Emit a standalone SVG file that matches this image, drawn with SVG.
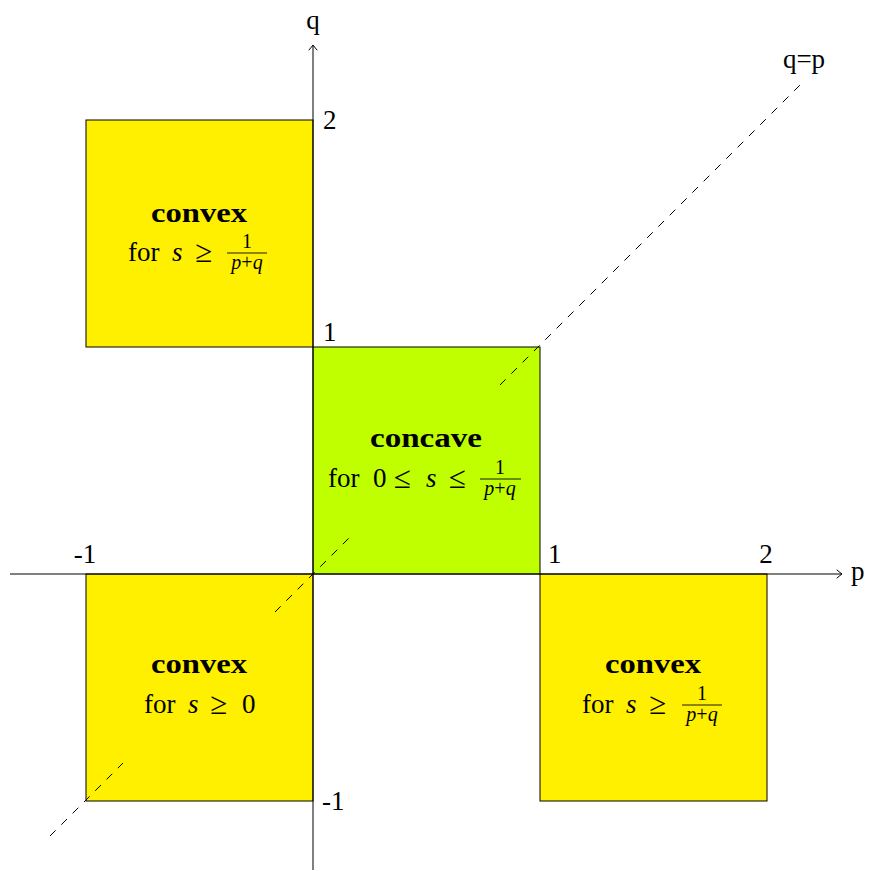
<svg xmlns="http://www.w3.org/2000/svg" width="871" height="871" viewBox="0 0 871 871" font-family="'Liberation Serif', 'DejaVu Serif', serif">
<defs>
<marker id="arr" viewBox="-6 -5 8 10" markerWidth="8" markerHeight="10" refX="0" refY="0" orient="auto" markerUnits="userSpaceOnUse">
<path d="M -5,-4 Q -1.5,-1 0,0 Q -1.5,1 -5,4" fill="none" stroke="#000" stroke-width="1" stroke-linecap="round"/>
</marker>
</defs>
<style>
text{font-family:"Liberation Serif","DejaVu Serif",serif;fill:#000}
.t{font-size:27px}
.b{font-size:27px;font-weight:bold}
.i{font-style:italic}
.s{font-size:20px}
.r{font-size:31px}
.y{fill:#FFF000;stroke:#000;stroke-width:1}
.g{fill:#BFFF00;stroke:#000;stroke-width:1}
.ax{stroke:#000;stroke-width:1;fill:none}
.d{stroke:#000;stroke-width:1;stroke-dasharray:8 8;fill:none}
.fb{stroke:#000;stroke-width:0.9}
</style>
<g id="box-upper-left">
<rect class="y" x="86" y="120" width="227" height="227"/>
<text class="b" x="199" y="222" text-anchor="middle" textLength="96" lengthAdjust="spacingAndGlyphs">convex</text>
<text class="t" x="128" y="261">for</text>
<text class="t i" x="172" y="261">s</text>
<text class="t r" x="195" y="262">≥</text>
<text class="t s" x="247" y="248" text-anchor="middle">1</text>
<line class="fb" x1="227" y1="253" x2="267" y2="253"/>
<text class="t s" x="247" y="269" text-anchor="middle"><tspan class="i">p</tspan>+<tspan class="i">q</tspan></text>
</g>
<g id="box-center">
<rect class="g" x="313" y="347" width="227" height="227"/>
<text class="b" x="426" y="447" text-anchor="middle" textLength="112" lengthAdjust="spacingAndGlyphs">concave</text>
<text class="t" x="328" y="487">for</text>
<text class="t" x="373" y="487">0</text>
<text class="t r" x="394" y="488">≤</text>
<text class="t i" x="426" y="487">s</text>
<text class="t r" x="449" y="488">≤</text>
<text class="t s" x="500" y="474" text-anchor="middle">1</text>
<line class="fb" x1="480" y1="479" x2="521" y2="479"/>
<text class="t s" x="500" y="495" text-anchor="middle"><tspan class="i">p</tspan>+<tspan class="i">q</tspan></text>
</g>
<g id="box-lower-left">
<rect class="y" x="86" y="574" width="227" height="227"/>
<text class="b" x="199" y="673" text-anchor="middle" textLength="96" lengthAdjust="spacingAndGlyphs">convex</text>
<text class="t" x="144" y="713">for</text>
<text class="t i" x="188" y="713">s</text>
<text class="t r" x="210" y="714">≥</text>
<text class="t" x="242" y="713">0</text>
</g>
<g id="box-lower-right">
<rect class="y" x="540" y="574" width="227" height="227"/>
<text class="b" x="653" y="673" text-anchor="middle" textLength="96" lengthAdjust="spacingAndGlyphs">convex</text>
<text class="t" x="582" y="713">for</text>
<text class="t i" x="626" y="713">s</text>
<text class="t r" x="649" y="714">≥</text>
<text class="t s" x="702" y="700" text-anchor="middle">1</text>
<line class="fb" x1="682" y1="705" x2="722" y2="705"/>
<text class="t s" x="702" y="721" text-anchor="middle"><tspan class="i">p</tspan>+<tspan class="i">q</tspan></text>
</g>
<g id="connectors">
<line class="ax" x1="10" y1="574" x2="842" y2="574" marker-end="url(#arr)"/>
<line class="ax" x1="313" y1="870" x2="313" y2="45" marker-end="url(#arr)"/>
<line class="d" x1="50" y1="836" x2="123" y2="763"/>
<line class="d" x1="275" y1="612" x2="350" y2="537"/>
<line class="d" x1="500" y1="385" x2="801" y2="84"/>
</g>
<g id="labels">
<text class="t" x="313" y="29" text-anchor="middle">q</text>
<text class="t" x="851" y="580">p</text>
<text class="t" x="804" y="68" text-anchor="middle">q=p</text>
<text class="t" x="323" y="129">2</text>
<text class="t" x="323" y="341">1</text>
<text class="t" x="322" y="810">-1</text>
<text class="t" x="85" y="563" text-anchor="middle">-1</text>
<text class="t" x="548" y="563">1</text>
<text class="t" x="766" y="563" text-anchor="middle">2</text>
</g>
</svg>
